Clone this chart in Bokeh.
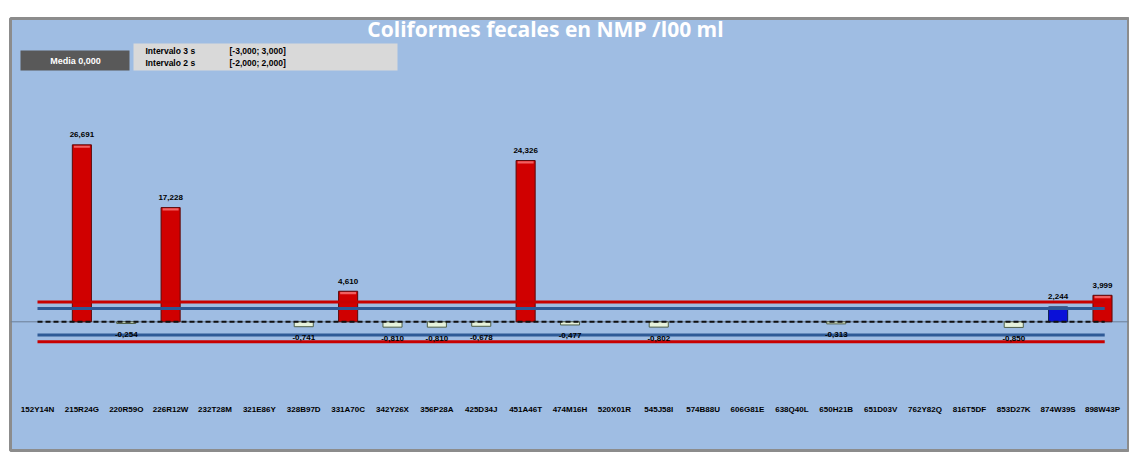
from bokeh.plotting import figure
from bokeh.models import Range1d, ColumnDataSource, Span, BoxAnnotation, Label
from bokeh.embed import file_html
from bokeh.resources import INLINE
from bokeh.core.properties import value

# ---------------- data ----------------
categories = ["152Y14N", "215R24G", "220R59O", "226R12W", "232T28M", "321E86Y",
              "328B97D", "331A70C", "342Y26X", "356P28A", "425D34J", "451A46T",
              "474M16H", "520X01R", "545J58I", "574B88U", "606G81E", "638Q40L",
              "650H21B", "651D03V", "762Y82Q", "816T5DF", "853D27K", "874W39S",
              "898W43P"]
values = [None, 26.691, -0.254, 17.228, None, None,
          -0.741, 4.610, -0.810, -0.810, -0.678, 24.326,
          -0.477, None, -0.802, None, None, None,
          -0.313, None, None, None, -0.850, 2.244,
          3.999]
mean_value = 0.0
limit_3s = 3.0
limit_2s = 2.0
title_text = "Coliformes fecales en NMP /l00 ml"

# ---------------- page <-> data helpers (layout only) ----------------
PX_C0, PX_STEP = 37.0, 44.375      # page x of first category centre, spacing
PY_ZERO, PY_UNIT = 321.3, 6.63     # page y of zero, pixels per unit


def dx(px):
    return (px - PX_C0) / PX_STEP


def dy(py):
    return (PY_ZERO - py) / PY_UNIT


FONT = value("Liberation Sans")

p = figure(width=1129, height=453, output_backend="svg", toolbar_location=None,
           x_range=Range1d(dx(10), dx(1128)), y_range=Range1d(dy(450), dy(18)),
           x_axis_location=None, y_axis_location=None,
           min_border_left=10, min_border_right=1, min_border_top=18, min_border_bottom=3)
p.grid.visible = False
p.background_fill_color = "#9fbde3"
p.border_fill_color = "white"
p.outline_line_color = "#8c8c8c"
p.outline_line_width = 3

# thin axis line at the mean (under everything)
p.add_layout(Span(location=mean_value, dimension="width", line_color="#6d7f96",
                  line_width=1, level="underlay"))

# ---------------- bars ----------------
xs, tops, fills, lines, labels = [], [], [], [], []
for i, v in enumerate(values):
    if v is None:
        continue
    xs.append(i)
    tops.append(v)
    if v > limit_3s:
        fills.append("#d00000"); lines.append("#5c0a0a")
    elif v > limit_2s:
        fills.append("#0a10d8"); lines.append("#0b1d4a")
    else:
        fills.append("#e6f2dc"); lines.append("#4e5f48")
    labels.append(f"{v:.3f}".replace(".", ","))

src = ColumnDataSource(dict(x=xs, top=tops, fill=fills, line=lines, label=labels))
p.vbar(x="x", top="top", bottom=mean_value, width=0.43, fill_color="fill",
       line_color="line", line_width=1, source=src)

# light highlight at the top of the red bars
pos_x = [x for x, t in zip(xs, tops) if t > limit_3s]
pos_t = [t for t in tops if t > limit_3s]
p.vbar(x=pos_x, top=[t - 0.12 for t in pos_t], bottom=[t - 0.45 for t in pos_t],
       width=0.36, fill_color="#f06060", line_color=None)

# ---------------- reference lines ----------------
x_first, x_last = 0, len(categories) - 1 + 0.05
for lvl, col in [(limit_3s, "#c80000"), (-limit_3s, "#c80000"),
                 (limit_2s, "#2e5a96"), (-limit_2s, "#2e5a96")]:
    p.segment(x0=[x_first], y0=[lvl], x1=[x_last], y1=[lvl], line_color=col, line_width=3)
p.segment(x0=[x_first], y0=[mean_value], x1=[x_last], y1=[mean_value],
          line_color="#111111", line_width=2, line_dash="5 3")

# ---------------- value labels ----------------
pos = ColumnDataSource(dict(x=[x for x, t in zip(xs, tops) if t >= 0],
                            y=[t for t in tops if t >= 0],
                            t=[l for l, t in zip(labels, tops) if t >= 0]))
neg = ColumnDataSource(dict(x=[x for x, t in zip(xs, tops) if t < 0],
                            y=[t for t in tops if t < 0],
                            t=[l for l, t in zip(labels, tops) if t < 0]))
p.text(x="x", y="y", text="t", source=pos, text_align="center", text_baseline="middle",
       y_offset=-10, text_font=FONT, text_font_style="bold", text_font_size="8px",
       text_color="#000000")
p.text(x="x", y="y", text="t", source=neg, text_align="center", text_baseline="middle",
       y_offset=11, text_font=FONT, text_font_style="bold", text_font_size="8px",
       text_color="#000000")

# ---------------- category labels ----------------
p.text(x=list(range(len(categories))), y=[dy(409)] * len(categories), text=categories,
       text_align="center", text_baseline="middle", text_font=FONT,
       text_font_style="bold", text_font_size="8px", text_color="#000000")

# ---------------- title & info boxes ----------------
p.add_layout(Label(x=dx(545), y=dy(28), text=title_text, text_align="center",
                   text_baseline="middle", text_color="white", text_font_size="21px",
                   text_font="Open Sans", text_font_style="bold"))

p.add_layout(BoxAnnotation(left=dx(20), right=dx(129), top=dy(50), bottom=dy(70),
                           fill_color="#595959", fill_alpha=1, line_color=None))
p.add_layout(BoxAnnotation(left=dx(133), right=dx(397), top=dy(43), bottom=dy(70),
                           fill_color="#d9d9d9", fill_alpha=1, line_color=None))
p.add_layout(Label(x=dx(75), y=dy(60), text=f"Media {mean_value:.3f}".replace(".", ","),
                   text_align="center", text_baseline="middle", text_color="white",
                   text_font_size="9px", text_font="Liberation Sans",
                   text_font_style="bold"))
for ypos, k, lim in [(50, 3, limit_3s), (62, 2, limit_2s)]:
    p.add_layout(Label(x=dx(145), y=dy(ypos), text=f"Intervalo {k} s",
                       text_align="left", text_baseline="middle", text_color="#000000",
                       text_font_size="8.5px", text_font="Liberation Sans",
                       text_font_style="bold"))
    rng = f"[{-lim:.3f}; {lim:.3f}]".replace(".", ",")
    p.add_layout(Label(x=dx(229), y=dy(ypos), text=rng,
                       text_align="left", text_baseline="middle", text_color="#000000",
                       text_font_size="8.5px", text_font="Liberation Sans",
                       text_font_style="bold"))

open("out.html", "w").write(file_html(p, INLINE))
